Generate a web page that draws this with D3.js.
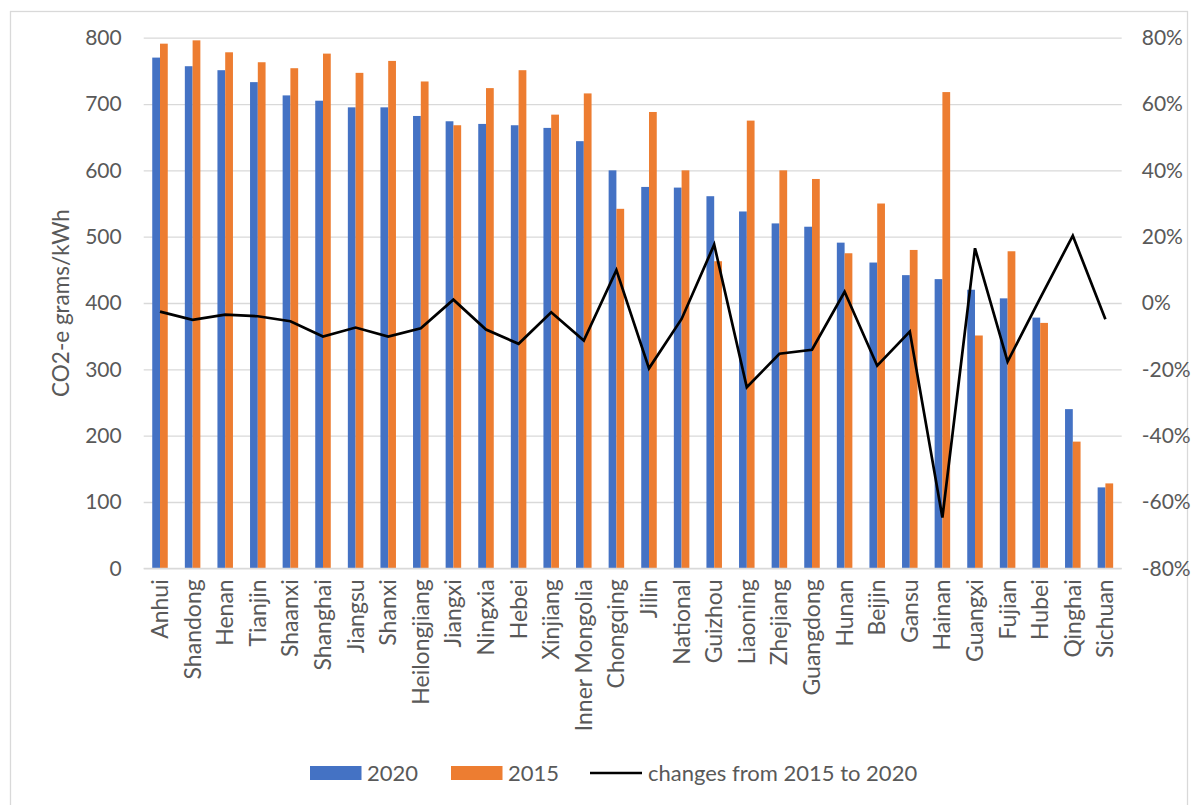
<!DOCTYPE html>
<html>
<head>
<meta charset="utf-8">
<script src="https://cdn.jsdelivr.net/npm/d3@7"></script>
<style>
  html, body { margin: 0; padding: 0; background: #ffffff; }
  svg { display: block; }
  text { font-family: Lato, "Open Sans", sans-serif; fill: #595959; }
</style>
</head>
<body>
<svg id="chart" width="1198" height="805"></svg>
<script>
// Emission intensity of electricity by province, 2020 vs 2015
const categories = ["Anhui", "Shandong", "Henan", "Tianjin", "Shaanxi", "Shanghai", "Jiangsu", "Shanxi",
  "Heilongjiang", "Jiangxi", "Ningxia", "Hebei", "Xinjiang", "Inner Mongolia", "Chongqing", "Jilin",
  "National", "Guizhou", "Liaoning", "Zhejiang", "Guangdong", "Hunan", "Beijin", "Gansu", "Hainan",
  "Guangxi", "Fujian", "Hubei", "Qinghai", "Sichuan"];

const values2020 = [770, 757, 751, 733, 713, 705, 695, 695, 682, 674, 670, 668, 664, 644, 600, 575,
  574, 561, 538, 520, 515, 491, 461, 442, 436, 420, 407, 378, 240, 122];

const values2015 = [791, 796, 778, 763, 754, 776, 747, 765, 734, 668, 724, 751, 684, 716, 542, 688,
  600, 463, 675, 600, 587, 475, 550, 480, 718, 351, 478, 370, 191, 128];

// percentage change from 2015 to 2020
const changes = [-2.6, -5.1, -3.5, -4.0, -5.5, -10.1, -7.4, -10.1, -7.6, 1.0, -8.0, -12.3, -2.8, -11.3,
  9.9, -19.7, -4.8, 17.6, -25.4, -15.3, -14.1, 3.4, -18.9, -8.6, -64.7, 16.5, -17.7, 1.5, 20.3, -4.9];

const leftTicks = [0, 100, 200, 300, 400, 500, 600, 700, 800];
const rightTicks = [-80, -60, -40, -20, 0, 20, 40, 60, 80];
const seriesNames = ["2020", "2015"];
const lineName = "changes from 2015 to 2020";
const yTitle = "CO2-e grams/kWh";

const colors = { "2020": "#4472C4", "2015": "#ED7D31" };

const svg = d3.select("#chart");
const plot = { left: 143.7, right: 1121.7, top: 37.7, bottom: 568.3 };

// outer chart frame
svg.append("rect")
  .attr("x", 10.5).attr("y", 11.5)
  .attr("width", 1177).attr("height", 820)
  .attr("fill", "#ffffff").attr("stroke", "#d9d9d9").attr("stroke-width", 1.3);

const x = d3.scaleBand().domain(categories).range([plot.left, plot.right]).paddingInner(0).paddingOuter(0);
const xs = d3.scaleBand().domain(seriesNames).range([0, x.bandwidth()]).paddingInner(0).paddingOuter(1.1);
const y = d3.scaleLinear().domain([0, 800]).range([plot.bottom, plot.top]);
const yR = d3.scaleLinear().domain([-80, 80]).range([plot.bottom, plot.top]);

// gridlines + left tick labels
const leftAxis = svg.append("g")
  .attr("transform", `translate(${plot.left},0)`)
  .call(d3.axisLeft(y).tickValues(leftTicks).tickSize(-(plot.right - plot.left)).tickPadding(22));
leftAxis.select(".domain").remove();
leftAxis.selectAll(".tick line").attr("stroke", "#d9d9d9").attr("stroke-width", 1.3);
leftAxis.selectAll(".tick text")
  .attr("font-size", 21).attr("fill", "#595959").attr("font-family", "Lato, sans-serif");

// right percentage axis labels
const rightAxis = svg.append("g")
  .attr("transform", `translate(${plot.right},0)`)
  .call(d3.axisRight(yR).tickValues(rightTicks).tickSize(0).tickPadding(20).tickFormat(d => d + "%"));
rightAxis.select(".domain").remove();
rightAxis.selectAll(".tick text")
  .attr("font-size", 21).attr("fill", "#595959").attr("font-family", "Lato, sans-serif");

// bars
const rows = categories.map((c, i) => ({ c, vals: [
  { key: "2020", v: values2020[i] }, { key: "2015", v: values2015[i] }] }));

const groups = svg.append("g").selectAll("g")
  .data(rows).join("g")
  .attr("transform", d => `translate(${x(d.c)},0)`);

groups.selectAll("rect")
  .data(d => d.vals).join("rect")
  .attr("x", d => xs(d.key))
  .attr("width", xs.bandwidth())
  .attr("y", d => y(d.v))
  .attr("height", d => y(0) - y(d.v))
  .attr("fill", d => colors[d.key]);

// baseline redrawn over bar bottoms
svg.append("line")
  .attr("x1", plot.left).attr("x2", plot.right)
  .attr("y1", y(0)).attr("y2", y(0))
  .attr("stroke", "#d9d9d9").attr("stroke-width", 1.3);

// change line
const line = d3.line()
  .x((d, i) => x(categories[i]) + x.bandwidth() / 2)
  .y(d => yR(d));
svg.append("path")
  .datum(changes)
  .attr("d", line)
  .attr("fill", "none")
  .attr("stroke", "#000000")
  .attr("stroke-width", 2.7)
  .attr("stroke-linejoin", "miter");

// category labels (rotated)
const xAxis = svg.append("g")
  .attr("transform", `translate(0,${plot.bottom})`)
  .call(d3.axisBottom(x).tickSize(0).tickPadding(0));
xAxis.select(".domain").remove();
xAxis.selectAll(".tick text")
  .attr("font-size", 23).attr("fill", "#595959").attr("font-family", "Lato, sans-serif")
  .attr("text-anchor", "end")
  .attr("transform", "rotate(-90)")
  .attr("x", -11).attr("y", 0).attr("dy", "0.35em");

// y axis title
svg.append("text")
  .attr("transform", `translate(61.5,${(plot.top + plot.bottom) / 2}) rotate(-90)`)
  .attr("text-anchor", "middle").attr("dy", "0.35em")
  .attr("font-size", 22.5)
  .text(yTitle);

// legend
const legend = svg.append("g").attr("transform", "translate(0,773)");
const legendItems = [
  { name: seriesNames[0], x: 310, type: "bar", color: colors["2020"] },
  { name: seriesNames[1], x: 451, type: "bar", color: colors["2015"] },
  { name: lineName, x: 590, type: "line", color: "#000000" }
];
legendItems.forEach(it => {
  if (it.type === "bar") {
    legend.append("rect").attr("x", it.x).attr("y", -7).attr("width", 51.5).attr("height", 14).attr("fill", it.color);
    legend.append("text").attr("x", it.x + 57).attr("dy", "0.35em").attr("font-size", 22).text(it.name);
  } else {
    legend.append("line").attr("x1", it.x).attr("x2", it.x + 52).attr("y1", 0).attr("y2", 0)
      .attr("stroke", it.color).attr("stroke-width", 2.6);
    legend.append("text").attr("x", it.x + 58).attr("dy", "0.35em").attr("font-size", 22).text(it.name);
  }
});
</script>
</body>
</html>
